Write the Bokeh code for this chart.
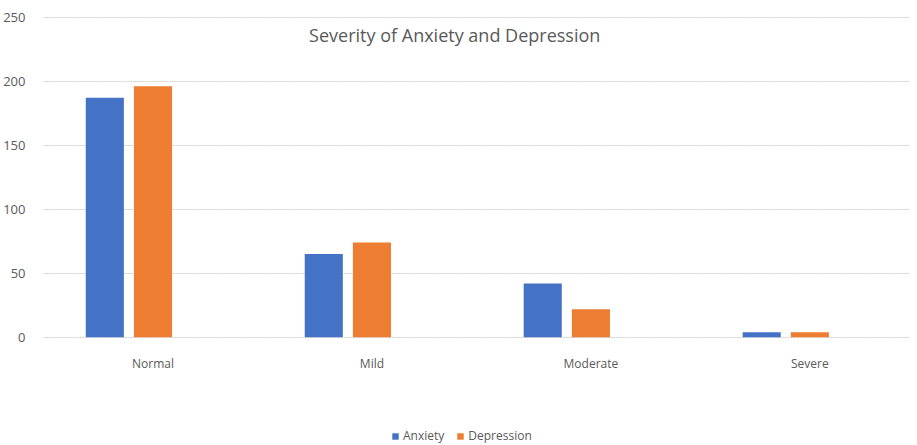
from bokeh.plotting import figure
from bokeh.models import ColumnDataSource, Range1d, FixedTicker, Legend, LegendItem, Label
from bokeh.transform import dodge
from bokeh.embed import file_html
from bokeh.resources import INLINE

categories = ["Normal", "Mild", "Moderate", "Severe"]
anxiety = [187, 65, 42, 4]
depression = [196, 74, 22, 4]
y_ticks = [0, 50, 100, 150, 200, 250]

idx = list(range(len(categories)))
src = ColumnDataSource(dict(x=idx, anxiety=anxiety, depression=depression))

FONT = "Open Sans"
GRAY = "#595959"

p = figure(width=909, height=445, output_backend="svg", toolbar_location=None,
           x_range=Range1d(-0.5, 3.455), y_range=Range1d(-84.4, 252),
           min_border_left=35, min_border_right=0, min_border_top=14, min_border_bottom=0)
p.outline_line_color = None

bw = 0.174
r1 = p.vbar(x=dodge("x", -0.22, range=p.x_range), top="anxiety", width=bw, source=src,
            fill_color="#4472C4", line_color=None)
r2 = p.vbar(x=dodge("x", 0.0, range=p.x_range), top="depression", width=bw, source=src,
            fill_color="#ED7D31", line_color=None)

p.xaxis.ticker = FixedTicker(ticks=idx)
p.xaxis.major_label_overrides = {i: c for i, c in enumerate(categories)}
p.xaxis.fixed_location = 0
p.yaxis.ticker = FixedTicker(ticks=y_ticks)
for ax in (p.xaxis, p.yaxis):
    ax.axis_line_color = None
    ax.major_tick_line_color = None
    ax.minor_tick_line_color = None
    ax.major_label_text_font = FONT
    ax.major_label_text_color = GRAY
    ax.major_label_text_font_size = "12px"
p.yaxis.major_label_text_font_size = "13px"
p.xaxis.major_label_standoff = 12
p.yaxis.major_label_standoff = 12

p.xgrid.grid_line_color = None
p.ygrid.grid_line_color = "#cfcfcf"
p.ygrid.grid_line_dash = "2 1"
p.ygrid.grid_line_width = 1

title = Label(x=1.378, y=236, text="Severity of Anxiety and Depression",
              text_align="center", text_baseline="middle",
              text_font=FONT, text_font_size="18px", text_color=GRAY)
p.add_layout(title)

legend = Legend(items=[LegendItem(label="Anxiety", renderers=[r1]),
                       LegendItem(label="Depression", renderers=[r2])],
                orientation="horizontal", location=(348, 1),
                glyph_width=8, glyph_height=8, spacing=12, padding=0, margin=0,
                label_standoff=4, label_text_font=FONT, label_text_font_size="12px",
                label_text_color=GRAY, border_line_color=None, background_fill_alpha=0)
p.add_layout(legend, "center")

open("out.html", "w").write(file_html(p, INLINE))
